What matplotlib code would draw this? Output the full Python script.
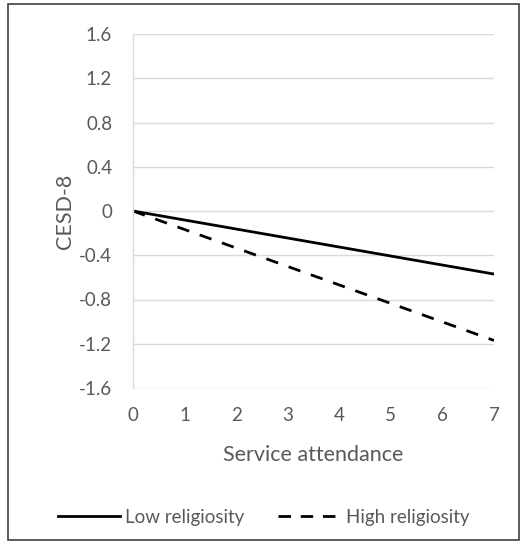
import matplotlib
matplotlib.use("Agg")
import matplotlib.pyplot as plt
from matplotlib.patches import Rectangle
from matplotlib.lines import Line2D

# Data
attendance = [0, 7]
low_religiosity = [0, -0.57]
high_religiosity = [0, -1.17]
y_ticks = [-1.6, -1.2, -0.8, -0.4, 0, 0.4, 0.8, 1.2, 1.6]
x_ticks = [0, 1, 2, 3, 4, 5, 6, 7]

plt.rcParams['font.family'] = ['Lato', 'DejaVu Sans']
text_color = '#595959'
grid_color = '#d9d9d9'

fig = plt.figure(figsize=(5.27, 5.44), dpi=100)
ax = fig.add_axes([133 / 527, 156 / 544, 361 / 527, 354 / 544])

ax.plot(attendance, low_religiosity, color='black', lw=2.0, solid_capstyle='butt',
        label='Low religiosity')
ax.plot(attendance, high_religiosity, color='black', lw=2.0, dashes=(4.5, 4),
        label='High religiosity')

ax.set_xlim(0, 7)
ax.set_ylim(-1.6, 1.6)
ax.set_xticks(x_ticks)
ax.set_yticks(y_ticks)
ax.set_yticklabels(['0' if v == 0 else f'{v:g}' for v in y_ticks])
ax.tick_params(length=0, labelsize=13.5, colors=text_color)
ax.tick_params(axis='y', pad=15)
ax.tick_params(axis='x', pad=14)

ax.grid(axis='y', color=grid_color, lw=1)
ax.set_axisbelow(True)
for side in ['top', 'right', 'bottom']:
    ax.spines[side].set_visible(False)
ax.spines['left'].set_color(grid_color)
ax.spines['left'].set_linewidth(1)

ax.set_xlabel('Service attendance', fontsize=15.5, color=text_color, labelpad=15)
ax.set_ylabel('CESD-8', fontsize=15.5, color=text_color, labelpad=3)

handles = [Line2D([], [], color='black', lw=2.0),
           Line2D([], [], color='black', lw=2.0, dashes=(4.5, 3.5))]
leg = fig.legend(handles, ['Low religiosity', 'High religiosity'], loc='center',
                 bbox_to_anchor=(0.5, 1 - 517 / 544), ncol=2, frameon=False,
                 fontsize=13.5, handlelength=3.3, handletextpad=0.3,
                 columnspacing=1.8)
for t in leg.get_texts():
    t.set_color(text_color)

# Border around the chart area
fig.patches.append(Rectangle((8 / 527, 4 / 544), 511 / 527, 536 / 544,
                             transform=fig.transFigure, fill=False,
                             edgecolor='#404040', lw=1.2))

fig.savefig('out.png', dpi=100, facecolor='white')
